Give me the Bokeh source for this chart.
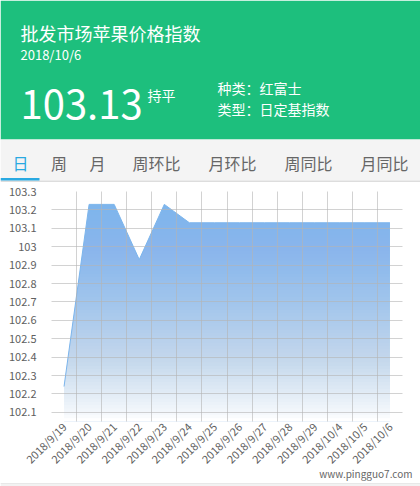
import math
from bokeh.plotting import figure
from bokeh.models import Range1d, FixedTicker, PrintfTickFormatter
from bokeh.core.properties import value
from bokeh.embed import file_html
from bokeh.resources import INLINE

# ---- data ----
dates = ["2018/9/19", "2018/9/20", "2018/9/21", "2018/9/22", "2018/9/23", "2018/9/24",
         "2018/9/25", "2018/9/26", "2018/9/27", "2018/9/28", "2018/9/29", "2018/10/4",
         "2018/10/5", "2018/10/6"]
index_values = [102.24, 103.23, 103.23, 102.93, 103.23, 103.13,
                103.13, 103.13, 103.13, 103.13, 103.13, 103.13,
                103.13, 103.13]
y_ticks = [102.1, 102.2, 102.3, 102.4, 102.5, 102.6, 102.7, 102.8, 102.9,
           103.0, 103.1, 103.2, 103.3]
title = "批发市场苹果价格指数"
date_text = "2018/10/6"
latest = "103.13"
trend = "持平"
kind = "种类：红富士"
idx_type = "类型：日定基指数"
tabs = ["日", "周", "月", "周环比", "月环比", "周同比", "月同比"]
watermark = "www.pingguo7.com"

FONT = value("Noto Sans CJK SC")
GREEN = "#1dbf7d"
BLUE = "#7cb5ec"

# ---- header (drawn in pixel space) ----
W = 420
HH = 182
h = figure(width=W, height=HH, x_range=Range1d(0, W), y_range=Range1d(HH, 0),
           output_backend="svg", toolbar_location=None, tools="",
           x_axis_type=None, y_axis_type=None, min_border=0)
h.grid.visible = False
h.outline_line_color = None
h.background_fill_color = "white"
h.border_fill_color = "white"
h.quad(left=0, right=W, top=0, bottom=139, fill_color=GREEN, line_color=None)
h.quad(left=0, right=W, top=139, bottom=180, fill_color="#f4f4f4", line_color=None)
h.quad(left=0, right=W, top=180, bottom=181.5, fill_color="#dddddd", line_color=None)
h.quad(left=0, right=39, top=177.5, bottom=180, fill_color="#29a9e1", line_color=None)

h.text(x=[20], y=[32], text=[title], text_font=FONT, text_font_size="18px",
       text_color="white", text_baseline="middle", text_align="left")
h.text(x=[20], y=[54], text=[date_text], text_font=FONT, text_font_size="13px",
       text_color="white", text_baseline="middle", text_align="left")
h.text(x=[20], y=[104], text=[latest], text_font=FONT, text_font_size="40px",
       text_color="white", text_baseline="middle", text_align="left")
h.text(x=[147], y=[94], text=[trend], text_font=FONT, text_font_size="14px",
       text_color="white", text_baseline="middle", text_align="left")
h.text(x=[217], y=[87], text=[kind], text_font=FONT, text_font_size="14px",
       text_color="white", text_baseline="middle", text_align="left")
h.text(x=[217], y=[108], text=[idx_type], text_font=FONT, text_font_size="14px",
       text_color="white", text_baseline="middle", text_align="left")
tab_x = [20, 58.5, 97, 156, 232, 308, 384]
tab_colors = ["#29a9e1"] + ["#666666"] * (len(tabs) - 1)
h.text(x=tab_x, y=[162.5] * len(tabs), text=tabs, text_font=FONT, text_font_size="16px",
       text_color=tab_colors, text_baseline="middle", text_align="center")

# ---- chart ----
n = len(dates)
xs = list(range(n))
y0, y1 = 102.05, 103.3
p = figure(width=W, height=296, x_range=Range1d(-0.5, n - 0.5), y_range=Range1d(y0, y1),
           output_backend="svg", toolbar_location=None, tools="",
           min_border_left=51, min_border_right=18, min_border_top=9, min_border_bottom=57)
p.outline_line_color = None
p.background_fill_color = "white"
p.border_fill_color = "white"

p.varea(x=xs, y1=[y0] * n, y2=index_values, fill_color=BLUE, fill_alpha=1.0)

# white gradient overlay (cumulative bands avoid seams)
nb = 70
edges = [y1 - (y1 - y0) * k / nb for k in range(nb + 1)]
tops, alphas = [], []
prev_f = 1.0
for k in range(nb):
    t = (k + 0.5) / nb
    f = max(1.0 - t ** 1.35, 0.0) if k < nb - 1 else 0.0
    a = 1.0 - (f / prev_f if prev_f > 0 else 0.0)
    tops.append(edges[k])
    alphas.append(min(max(a, 0.0), 1.0))
    prev_f = f if f > 0 else 1e-9
p.quad(left=[-0.5] * nb, right=[n - 0.5] * nb, top=tops, bottom=[y0] * nb,
       fill_color="white", fill_alpha=alphas, line_color=None)

p.line(xs, index_values, line_color=BLUE, line_width=1)

# grids at category boundaries and y ticks
p.xgrid.ticker = FixedTicker(ticks=[i - 0.5 for i in range(n + 1)])
p.ygrid.ticker = FixedTicker(ticks=y_ticks)
for g in (p.xgrid, p.ygrid):
    g.grid_line_color = "#b4b4b4"
    g.grid_line_alpha = 0.6
    g.grid_line_width = 1
    g.level = "guide"

p.yaxis.ticker = FixedTicker(ticks=y_ticks)
p.yaxis.formatter = PrintfTickFormatter(format="%g")
p.xaxis.ticker = FixedTicker(ticks=xs)
p.xaxis.major_label_overrides = {i: d for i, d in enumerate(dates)}
p.xaxis.major_label_orientation = math.pi / 4
for ax in (p.xaxis, p.yaxis):
    ax.axis_line_color = None
    ax.major_tick_line_color = None
    ax.minor_tick_line_color = None
    ax.major_tick_out = 0
    ax.major_tick_in = 0
    ax.major_label_text_font = "Noto Sans CJK SC"
    ax.major_label_text_font_size = "11px"
    ax.major_label_text_color = "#606060"
p.yaxis.major_label_standoff = 15
p.xaxis.major_label_standoff = 3

# ---- footer: watermark and bottom bar (transparent overlay, absolutely positioned) ----
FH = 20
f = figure(width=W, height=FH, x_range=Range1d(0, W), y_range=Range1d(FH, 0),
           output_backend="svg", toolbar_location=None, tools="",
           x_axis_type=None, y_axis_type=None, min_border=0,
           styles={"position": "absolute", "left": "0px", "top": "466px"})
f.grid.visible = False
f.outline_line_color = None
f.background_fill_alpha = 0
f.border_fill_alpha = 0
f.quad(left=0, right=W, top=16.5, bottom=20, fill_color="#f2f2f2", line_color=None)
f.quad(left=0, right=W, top=16.5, bottom=17.2, fill_color="#e4e4e4", line_color=None)
f.text(x=[412], y=[7], text=[watermark], text_font=FONT, text_font_size="10px",
       text_color="#666666", text_align="right", text_baseline="middle")

open("out.html", "w").write(file_html([h, p, f], INLINE))
